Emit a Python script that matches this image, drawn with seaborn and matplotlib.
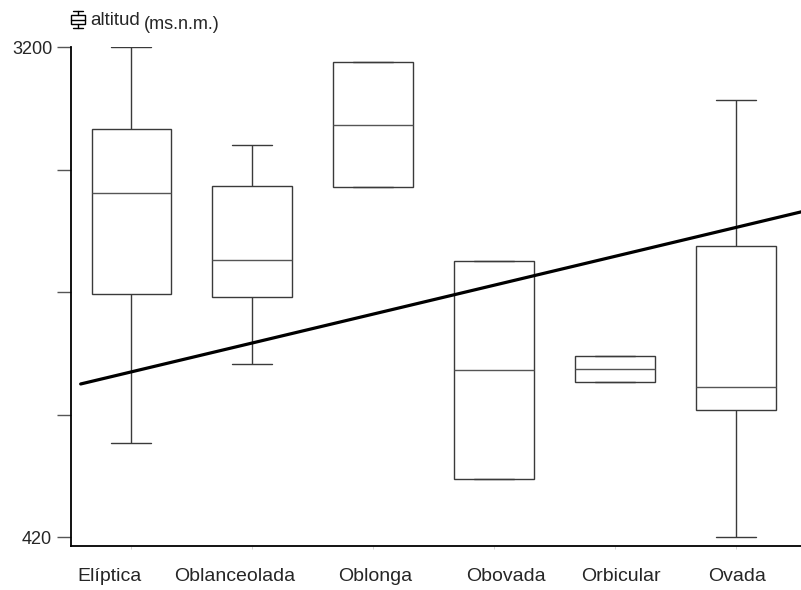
import pandas as pd
import numpy as np
import seaborn as sns
import matplotlib.pyplot as plt
import matplotlib.transforms as mtransforms
from matplotlib.lines import Line2D
from matplotlib.patches import Rectangle

# datos (altitud en ms.n.m.)
formas = ["Elíptica", "Oblanceolada", "Oblonga", "Obovada", "Orbicular", "Ovada"]
bigote_inf = [953, 1401, 2406, 749, 1299, 420]
cuartil_1 = [1799, 1782, 2406, 749, 1299, 1140]
mediana = [2371, 1991, 2757, 1367, 1373, 1271]
cuartil_3 = [2735, 2411, 3115, 1986, 1447, 2071]
bigote_sup = [3200, 2644, 3115, 1986, 1447, 2899]

# recta de ajuste
intercepto = 1357
pendiente = 163.8
recta_x = [-0.42, 5.6]

yticks = [420, 1115, 1810, 2505, 3200]
ytick_labels = ["420", "", "", "", "3200"]

filas = []
for i, f in enumerate(formas):
    for v in [bigote_inf[i], cuartil_1[i], mediana[i], cuartil_3[i], bigote_sup[i]]:
        filas.append({"forma": f, "altitud": v})
df = pd.DataFrame(filas)

sns.set_theme(style="white")
plt.rcParams["font.family"] = ["Liberation Sans", "DejaVu Sans"]

fig = plt.figure(figsize=(8.01, 5.90), dpi=100)
ax = fig.add_axes([71 / 801, 44 / 590, 1 - 71 / 801, (546 - 47) / 590])

sns.boxplot(data=df, x="forma", y="altitud", order=formas, color="white",
            linecolor="#3a3a3a", linewidth=1, width=0.66, whis=(0, 100),
            fliersize=0, medianprops=dict(color="#555555", linewidth=1), ax=ax)

rx = np.array(recta_x)
ax.plot(rx, intercepto + pendiente * rx, color="black", linewidth=2.3)

ax.set_xlim(-0.5, 5.54)
ax.set_ylim(369, 3200)
ax.set_yticks(yticks)
ax.set_yticklabels(ytick_labels)
ax.set_xlabel("")
ax.set_ylabel("")
ax.tick_params(axis="y", length=10, width=1, color="#555555", pad=3.5, labelsize=13, left=True)
ax.tick_params(axis="x", length=2, width=0.6, color="#cccccc", pad=14, labelsize=14, bottom=True)
for s in ["top", "right"]:
    ax.spines[s].set_visible(False)
for s in ["left", "bottom"]:
    ax.spines[s].set_color("black")
    ax.spines[s].set_linewidth(1.3)

# las etiquetas del original no quedan centradas en cada caja
desplazamientos = [-22, -18, 2, 12, 6, 1]
for lab, dx in zip(ax.get_xticklabels(), desplazamientos):
    lab.set_transform(lab.get_transform() +
                      mtransforms.ScaledTranslation(dx / 100, 0, fig.dpi_scale_trans))

# icono de caja junto al titulo
def px(x, y):
    return x / 801, 1 - y / 590
for (x0, y0), (x1, y1) in [((72.5, 10.5), (82.5, 10.5)), ((77.5, 10.5), (77.5, 15)),
                           ((70.5, 19.5), (84.5, 19.5)), ((77.5, 24), (77.5, 28)),
                           ((72.5, 28), (82.5, 28))]:
    a, b = px(x0, y0)
    c, d = px(x1, y1)
    fig.add_artist(Line2D([a, c], [b, d], color="black", linewidth=1))
a, b = px(70.5, 24)
fig.add_artist(Rectangle((a, b), 14 / 801, 9 / 590, fill=False, edgecolor="black", linewidth=1))

fig.text(90 / 801, 1 - 25 / 590, "altitud", fontsize=13.5, ha="left", va="baseline")
fig.text(144 / 801, 1 - 29 / 590, "(ms.n.m.)", fontsize=13, ha="left", va="baseline")

fig.savefig("out.png", dpi=100)
